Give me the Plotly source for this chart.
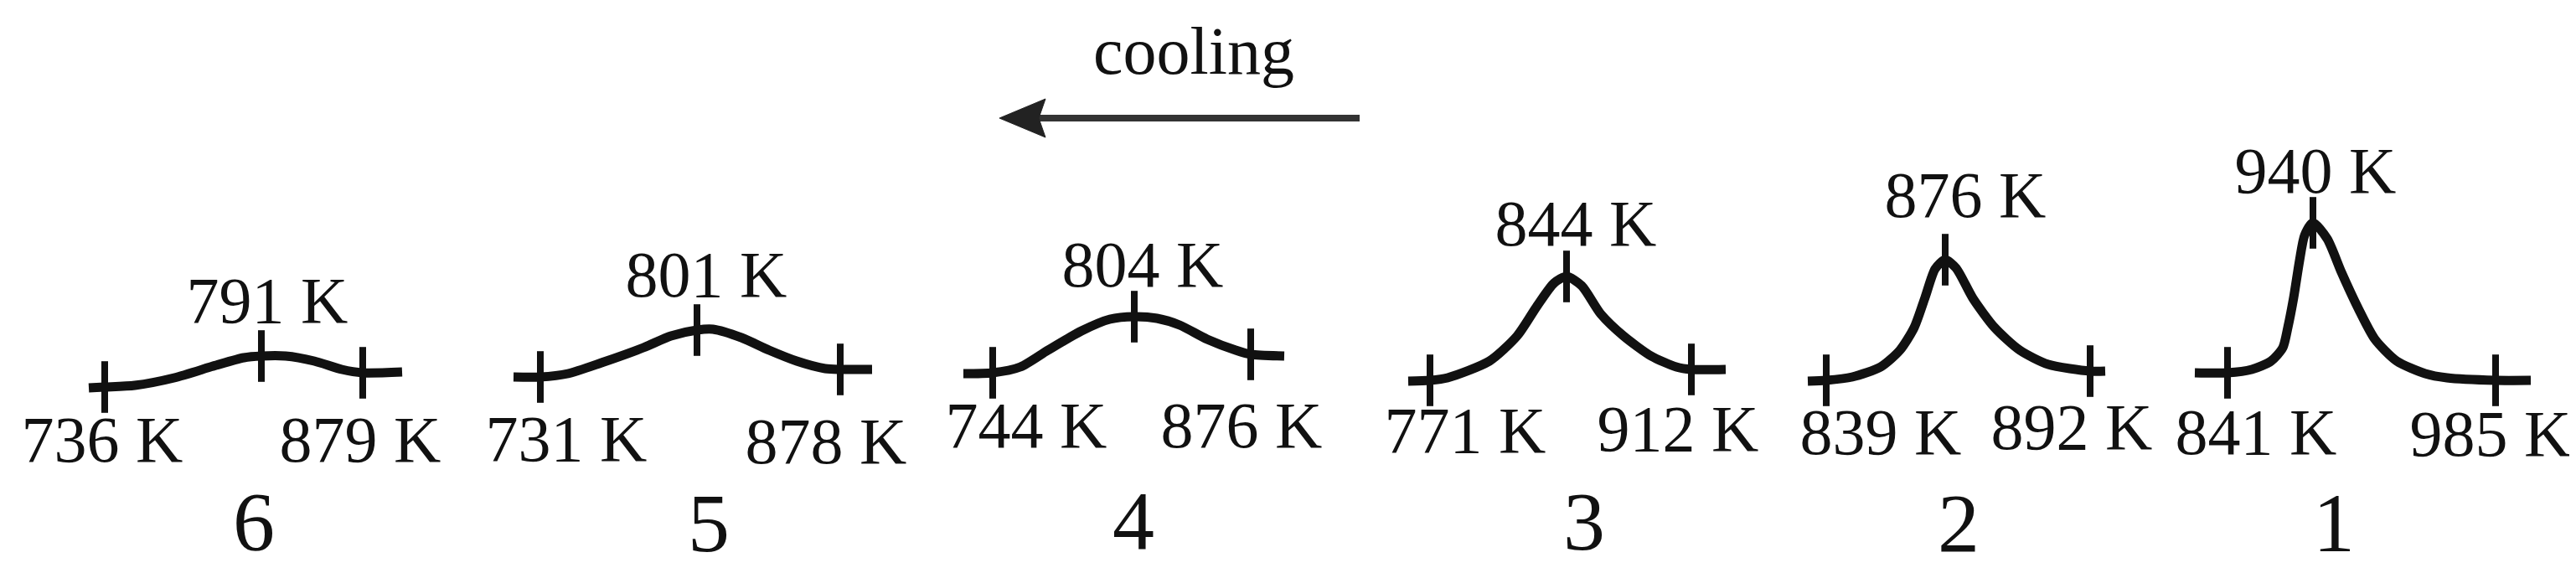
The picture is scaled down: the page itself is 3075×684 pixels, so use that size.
import numpy as np
import plotly.graph_objects as go

# sample numbers, in the order they are drawn from left to right
samples = [6, 5, 4, 3, 2, 1]

# labelled temperatures (K): onset, peak, end of each peak
t_start = [736, 731, 744, 771, 839, 841]
t_peak = [791, 801, 804, 844, 876, 940]
t_end = [879, 878, 876, 912, 892, 985]

# curves: distance from the onset mark (a.u.), signal above onset (a.u.)
c6_x = [-19, 0, 36, 83, 133, 166, 187, 216, 250, 283, 308, 355]
c6_y = [-1, 0, 2, 11, 26, 35, 37, 37, 31, 21, 17, 18]

c5_x = [-32, 0, 33, 73, 123, 156, 187, 206, 240, 273, 306, 340, 358, 396]
c5_y = [0, 0, 4, 17, 35, 49, 56, 57, 47, 32, 19, 10, 9, 9]

c4_x = [-35, 0, 33, 66, 106, 140, 169, 196, 223, 256, 290, 308, 348]
c4_y = [-1, 0, 7, 27, 50, 64, 67, 65, 57, 40, 27, 22, 20]

c3_x = [-26, 0, 21, 71, 104, 128, 148, 163, 181, 204, 231, 264, 294, 312, 353]
c3_y = [-1, 0, 3, 23, 53, 89, 116, 124, 113, 79, 53, 29, 16, 13, 13]

c2_x = [-22, 0, 31, 65, 88, 105, 118, 130, 142, 155, 175, 201, 231, 265, 315, 333]
c2_y = [-1, 0, 4, 16, 36, 63, 99, 133, 144, 134, 98, 63, 36, 19, 11, 11]

c1_x = [-39, 0, 29, 52, 66, 72, 79, 86, 92, 102, 119, 136, 156, 176, 202, 236, 262, 320, 362]
c1_y = [0, 0, 4, 14, 30, 54, 90, 134, 164, 179, 160, 120, 77, 40, 14, -1, -6, -9, -9]

# where the onset / peak / end marks sit along each curve (a.u.)
marks = [[0, 187, 308], [0, 187, 358], [0, 169, 308],
         [0, 163, 312], [0, 142, 315], [0, 102, 320]]

curves_x = [c6_x, c5_x, c4_x, c3_x, c2_x, c1_x]
curves_y = [c6_y, c5_y, c4_y, c3_y, c2_y, c1_y]

# --- layout (page pixels, y measured from the top) ---
W, H = 3075, 684
origins = [(117, 454), (637, 442), (1177, 437), (1699, 446), (2172, 446), (2651, 437)]
lbl_peak = [(311, 357), (835, 326), (1356, 314), (1873, 265), (2338, 231), (2756, 202)]
lbl_start = [(114, 523), (668, 522), (1217, 506), (1741, 512), (2237, 514), (2685, 514)]
lbl_end = [(422, 523), (978, 525), (1474, 506), (1995, 510), (2465, 508), (2965, 516)]
lbl_num = [(295, 623), (838, 625), (1345, 622), (1883, 623), (2330, 625), (2778, 625)]

FONT = "Liberation Serif, Times New Roman, serif"
INK = "#111111"

fig = go.Figure()

for i in range(len(samples)):
    ox, oy = origins[i]
    x = ox + np.array(curves_x[i], dtype=float)
    y = (H - oy) + np.array(curves_y[i], dtype=float)
    fig.add_trace(go.Scatter(
        x=x, y=y, mode="lines",
        line=dict(color=INK, width=11, shape="spline", smoothing=0.7),
        hoverinfo="skip", showlegend=False,
    ))

    # onset / peak / end marks sit on the curve
    mx = np.array(marks[i], dtype=float)
    my = np.interp(mx, curves_x[i], curves_y[i])
    fig.add_trace(go.Scatter(
        x=ox + mx, y=(H - oy) + my, mode="markers",
        marker=dict(symbol="line-ns", size=44, line=dict(color=INK, width=8)),
        hoverinfo="skip", showlegend=False,
    ))

    texts = [f"{t_peak[i]} K", f"{t_start[i]} K", f"{t_end[i]} K"]
    pos = [lbl_peak[i], lbl_start[i], lbl_end[i]]
    fig.add_trace(go.Scatter(
        x=[p[0] for p in pos], y=[H - p[1] for p in pos],
        mode="text", text=texts, textposition="middle center",
        textfont=dict(family=FONT, size=78, color=INK),
        hoverinfo="skip", showlegend=False,
    ))

    fig.add_trace(go.Scatter(
        x=[lbl_num[i][0]], y=[H - lbl_num[i][1]],
        mode="text", text=[str(samples[i])], textposition="middle center",
        textfont=dict(family=FONT, size=100, color=INK),
        hoverinfo="skip", showlegend=False,
    ))

# "cooling" arrow
fig.add_trace(go.Scatter(
    x=[1417], y=[H - 60], mode="text", text=["cooling"],
    textposition="middle center",
    textfont=dict(family=FONT, size=80, color=INK),
    hoverinfo="skip", showlegend=False,
))
ay = H - 133
fig.add_shape(type="line", x0=1232, x1=1615, y0=ay, y1=ay,
              line=dict(color="#333333", width=8))
fig.add_shape(type="path",
              path=f"M 1185,{ay} L 1240,{ay + 23} L 1232,{ay} L 1240,{ay - 23} Z",
              fillcolor="#222222", line=dict(color="#222222", width=1))

fig.update_layout(
    width=W, height=H,
    margin=dict(l=0, r=0, t=0, b=0),
    paper_bgcolor="white", plot_bgcolor="white",
    xaxis=dict(range=[0, W], visible=False, fixedrange=True),
    yaxis=dict(range=[0, H], visible=False, fixedrange=True),
)

fig.write_html("out.html")
